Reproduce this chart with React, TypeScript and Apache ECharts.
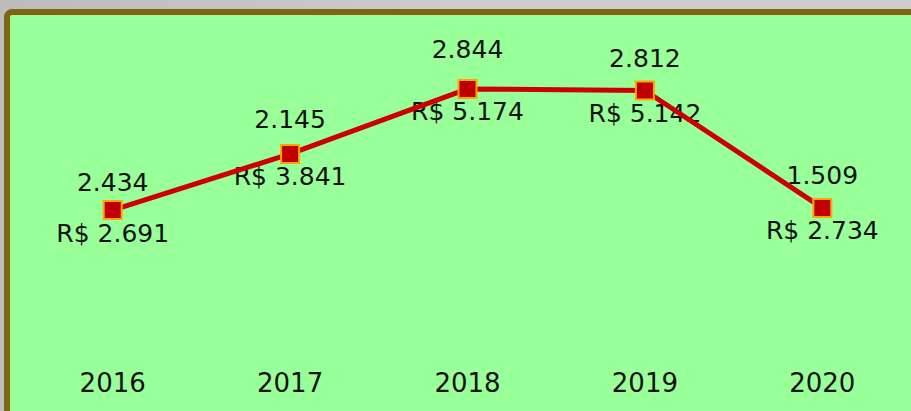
import React, { useEffect, useRef } from "react";
import * as echarts from "echarts";

const years = ["2016", "2017", "2018", "2019", "2020"];
const revenue = [2691, 3841, 5174, 5142, 2734];
const units = [2434, 2145, 2844, 2812, 1509];
const aboveGaps = [5, 11, 16, 9, 9];

const fmt = (v: number) => {
  const s = String(Math.round(v));
  return s.replace(/\B(?=(\d{3})+(?!\d))/g, ".");
};

const FONT = "DejaVu Sans";

export default function App() {
  const ref = useRef<HTMLDivElement>(null);
  useEffect(() => {
    if (!ref.current) return;
    const chart = echarts.init(ref.current, undefined, { renderer: "svg" });
    const labelBase = {
      show: true,
      color: "#111111",
      fontFamily: FONT,
      fontSize: 25,
      lineHeight: 26,
    };
    const hidden = { color: "rgba(0,0,0,0)", borderWidth: 0 };
    chart.setOption({
      animation: false,
      backgroundColor: {
        type: "linear",
        x: 0,
        y: 0,
        x2: 1,
        y2: 0,
        colorStops: [
          { offset: 0, color: "#bcbcbc" },
          { offset: 0.5, color: "#cccccc" },
          { offset: 1, color: "#cdcdcd" },
        ],
      },
      graphic: [
        {
          type: "rect",
          z: -10,
          silent: true,
          shape: { x: 7, y: 12, width: 1000, height: 500, r: 5 },
          style: { fill: "#99ff99", stroke: "#806414", lineWidth: 6 },
        },
      ],
      grid: { left: 24, right: 0, top: 48.7, bottom: 69.8 },
      xAxis: {
        type: "category",
        data: years,
        boundaryGap: true,
        axisLine: { show: false },
        axisTick: { show: false },
        splitLine: { show: false },
        axisLabel: {
          color: "#111111",
          fontFamily: FONT,
          fontSize: 26,
          margin: 29,
        },
      },
      yAxis: {
        type: "value",
        min: 0,
        max: 6000,
        show: false,
        splitLine: { show: false },
      },
      series: [
        {
          type: "line",
          z: 1,
          data: revenue,
          symbol: "rect",
          symbolSize: 20,
          lineStyle: { width: 0, color: "rgba(0,0,0,0)" },
          itemStyle: hidden,
          label: {
            ...labelBase,
            position: "bottom",
            distance: 0,
            formatter: (p: any) => "R$ " + fmt(p.value),
          },
        },
        {
          type: "line",
          z: 1,
          data: revenue.map((v, i) => ({
            value: v,
            label: { distance: aboveGaps[i] },
          })),
          symbol: "rect",
          symbolSize: 20,
          lineStyle: { width: 0, color: "rgba(0,0,0,0)" },
          itemStyle: hidden,
          label: {
            ...labelBase,
            position: "top",
            formatter: (p: any) => fmt(units[p.dataIndex]),
          },
        },
        {
          type: "line",
          z: 3,
          data: revenue,
          symbol: "rect",
          symbolSize: 18,
          lineStyle: { color: "#cc0000", width: 5 },
          itemStyle: { color: "#c00000", borderColor: "#ffa500", borderWidth: 2 },
          label: { show: false },
        },
      ],
    });
    return () => chart.dispose();
  }, []);
  return (
    <div
      ref={ref}
      style={{ position: "fixed", left: 0, top: 0, width: 911, height: 411 }}
    />
  );
}
